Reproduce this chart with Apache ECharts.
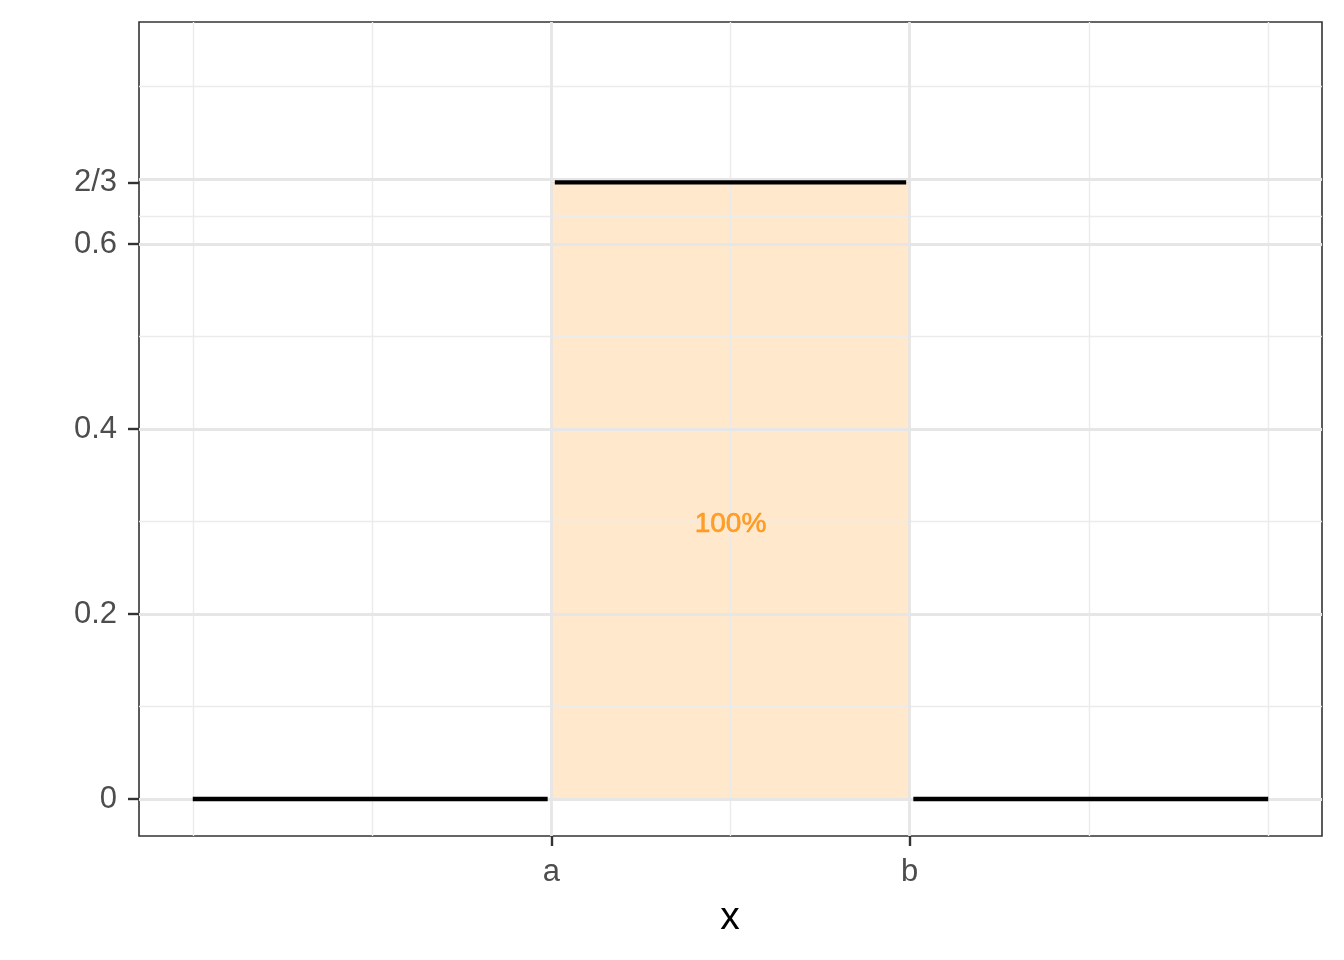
<!DOCTYPE html>
<html>
<head>
<meta charset="utf-8">
<script src="https://cdn.jsdelivr.net/npm/echarts@6/dist/echarts.min.js"></script>
<style>html,body{margin:0;padding:0;background:#fff}#c{width:1344px;height:960px}</style>
</head>
<body>
<div id="c"></div>
<script>
// ---- data ----
const xTickValues = [2, 4];
const xTickLabels = ['a', 'b'];
const yTickValues = [0, 0.2, 0.4, 0.6, 2/3];
const yTickLabels = ['0', '0.2', '0.4', '0.6', '2/3'];
const xMinorGrid = [0, 1, 3, 5, 6];
const yMinorGrid = [0.1, 0.3, 0.5, 0.6333, 0.7667];
const densityLeft = [[0, 0], [1.98, 0]];
const densityMid = [[2.02, 2/3], [3.98, 2/3]];
const densityRight = [[4.02, 0], [6, 0]];
const areaFrom = [2, 0];
const areaTo = [4, 2/3];
const areaLabel = [[3, 0.3, '100%']];
const xTitle = 'x';

const chart = echarts.init(document.getElementById('c'), null, {renderer: 'canvas'});
const FONT = 'Liberation Sans, Arial, sans-serif';
const majorGrid = {color: '#e6e6e6', width: 2.8, type: 'solid'};
const minorGrid = {color: '#ebebeb', width: 1.4, type: 'solid'};

function gridLines(vals, key, style) {
  return vals.map(v => ({[key]: v, lineStyle: style}));
}
function blackSeg(d) {
  return {type: 'line', data: d, symbol: 'none', z: 5, silent: true,
    lineStyle: {color: '#000', width: 4.4, cap: 'butt'}};
}

chart.setOption({
  animation: false,
  backgroundColor: '#fff',
  grid: {left: 139, right: 22, top: 22, bottom: 124, show: true,
    borderColor: '#333333', borderWidth: 1.6, backgroundColor: 'transparent'},
  xAxis: {
    type: 'value', min: -0.3, max: 6.3,
    axisLine: {show: false, onZero: false},
    splitLine: {show: false},
    axisTick: {show: true, inside: false, customValues: xTickValues, length: 10, lineStyle: {color: '#333', width: 2.4}},
    axisLabel: {customValues: xTickValues, margin: 21, fontSize: 31, color: '#4d4d4d', fontFamily: FONT,
      formatter: v => { const i = xTickValues.findIndex(t => Math.abs(t - v) < 1e-6); return i >= 0 ? xTickLabels[i] : ''; }}
  },
  yAxis: {
    type: 'value', min: -0.04, max: 0.84,
    axisLine: {show: false, onZero: false},
    splitLine: {show: false},
    axisTick: {show: true, inside: false, customValues: yTickValues, length: 11, lineStyle: {color: '#333', width: 2.4}},
    axisLabel: {customValues: yTickValues, margin: 22, fontSize: 31, color: '#4d4d4d', fontFamily: FONT,
      padding: [4, 0, 0, 0],
      formatter: v => { const i = yTickValues.findIndex(t => Math.abs(t - v) < 1e-6); return i >= 0 ? yTickLabels[i] : ''; }}
  },
  graphic: [{
    type: 'text', x: 730, y: 918,
    style: {text: xTitle, fontSize: 39, fill: '#000', fontFamily: FONT, align: 'center', verticalAlign: 'middle'}
  }],
  series: [
    {
      type: 'line', data: [], z: 1, silent: true,
      markLine: {silent: true, symbol: 'none', label: {show: false}, animation: false,
        data: [
          ...gridLines(xMinorGrid, 'xAxis', minorGrid),
          ...gridLines(yMinorGrid, 'yAxis', minorGrid),
          ...gridLines(xTickValues, 'xAxis', majorGrid),
          ...gridLines(yTickValues, 'yAxis', majorGrid)
        ]}
    },
    {
      type: 'line', data: [], z: 3, silent: true,
      markArea: {silent: true, z: 3,
        itemStyle: {color: 'rgba(255,140,0,0.2)', borderColor: 'rgba(240,170,90,0.35)', borderWidth: 1.2},
        data: [[{coord: areaFrom}, {coord: areaTo}]]}
    },
    blackSeg(densityLeft),
    blackSeg(densityMid),
    blackSeg(densityRight),
    {
      type: 'scatter', data: areaLabel, symbolSize: 0, z: 6, silent: true,
      label: {show: true, position: 'inside', formatter: p => p.data[2], offset: [0, 3],
        fontSize: 28, color: '#ff8c00', fontFamily: FONT, textBorderColor: '#ff8c00', textBorderWidth: 0.6}
    }
  ]
});
</script>
</body>
</html>
